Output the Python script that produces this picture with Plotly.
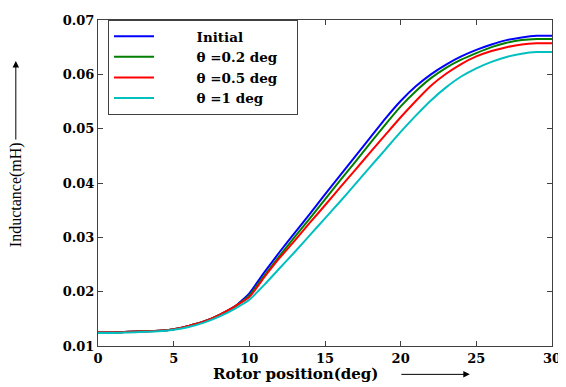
import plotly.graph_objects as go

rotor_deg = list(range(0, 31))

low = [0.0125, 0.0125, 0.0126, 0.0127, 0.0128, 0.0131, 0.0137, 0.0145, 0.0157, 0.0172]

initial = low + [0.0197, 0.0236, 0.0273, 0.0308, 0.0343, 0.0379, 0.0414, 0.0449, 0.0484,
                 0.0519, 0.0551, 0.0578, 0.0600, 0.0618, 0.0633, 0.0645, 0.0655, 0.0663,
                 0.0668, 0.0671, 0.0671]
theta_02 = low + [0.0193, 0.0230, 0.0266, 0.0301, 0.0335, 0.0370, 0.0405, 0.0439, 0.0474,
                  0.0508, 0.0541, 0.0569, 0.0593, 0.0612, 0.0627, 0.0639, 0.0650, 0.0658,
                  0.0663, 0.0665, 0.0665]
theta_05 = low + [0.0190, 0.0227, 0.0262, 0.0294, 0.0327, 0.0359, 0.0392, 0.0424, 0.0457,
                  0.0489, 0.0521, 0.0551, 0.0579, 0.0601, 0.0619, 0.0633, 0.0643, 0.0650,
                  0.0655, 0.0657, 0.0657]
theta_1 = [0.0124, 0.0124, 0.0125, 0.0126, 0.0127, 0.0130, 0.0135, 0.0143, 0.0154, 0.0168,
           0.0185, 0.0213, 0.0243, 0.0273, 0.0304, 0.0335, 0.0366, 0.0398, 0.0430,
           0.0462, 0.0494, 0.0524, 0.0552, 0.0576, 0.0596, 0.0611, 0.0623, 0.0632,
           0.0638, 0.0641, 0.0641]

PAD = "\u00a0" * 8
TAIL = "\u00a0" * 3
series_names = [PAD + "Initial", PAD + "θ =0.2 deg" + TAIL, PAD + "θ =0.5 deg", PAD + "θ =1 deg"]
series_vals = [initial, theta_02, theta_05, theta_1]
series_colors = ["#0000ff", "#007f00", "#ff0000", "#00bfbf"]

x_ticks = [0, 5, 10, 15, 20, 25, 30]
y_ticks = [0.01, 0.02, 0.03, 0.04, 0.05, 0.06, 0.07]
y_tick_labels = ["0.01", "0.02", "0.03", "0.04", "0.05", "0.06", "0.07"]

WIDE_SERIF = "DejaVu Serif, serif"
SERIF = "Liberation Serif, Times New Roman, serif"

fig = go.Figure()
for name, vals, col in zip(series_names, series_vals, series_colors):
    fig.add_trace(go.Scatter(x=rotor_deg, y=vals, mode="lines", name=name,
                             line=dict(color=col, width=2, shape="spline", smoothing=0.5)))

axis_common = dict(showgrid=False, zeroline=False, showline=True, linecolor="#404040",
                   linewidth=1, mirror="ticks", ticks="inside", ticklen=5,
                   tickcolor="#404040", ticklabeloverflow="allow",
                   tickfont=dict(family=WIDE_SERIF, size=13, color="black", weight="bold"))

# page body has an 8px margin: figure is placed at (8, 8)
fig.update_layout(
    width=558, height=379,
    margin=dict(l=90, r=10, t=5, b=41),
    paper_bgcolor="white", plot_bgcolor="white",
    showlegend=True,
    legend=dict(x=0.022, y=1.0, xanchor="left", yanchor="top",
                bordercolor="#404040", borderwidth=1, bgcolor="white",
                font=dict(family=WIDE_SERIF, size=13.5, color="black", weight="bold"),
                tracegroupgap=0, itemwidth=40),
    xaxis=dict(range=[0, 30], tickvals=x_ticks, **axis_common),
    yaxis=dict(range=[0.01, 0.07], tickvals=y_ticks, ticktext=y_tick_labels, **axis_common),
)

fig.add_annotation(text="<b>Rotor position(deg)</b>", xref="paper", yref="paper",
                   x=0.4345, y=-0.087, xanchor="center", yanchor="middle", showarrow=False,
                   font=dict(family=WIDE_SERIF, size=15, color="black"))
fig.add_annotation(text="", xref="paper", yref="paper", x=0.819, y=-0.087,
                   ax=-70, ay=0, showarrow=True, arrowhead=2, arrowsize=1.3,
                   arrowwidth=1, arrowcolor="black")
fig.add_annotation(text="Inductance(mH)", xref="paper", yref="paper",
                   x=-0.179, y=0.465, xanchor="center", yanchor="middle",
                   showarrow=False, textangle=-90,
                   font=dict(family=SERIF, size=16, color="black"))
fig.add_annotation(text="", xref="paper", yref="paper", x=-0.181, y=0.874,
                   ax=0, ay=80, showarrow=True, arrowhead=2, arrowsize=1.3,
                   arrowwidth=1, arrowcolor="black")

fig.write_html("out.html")
